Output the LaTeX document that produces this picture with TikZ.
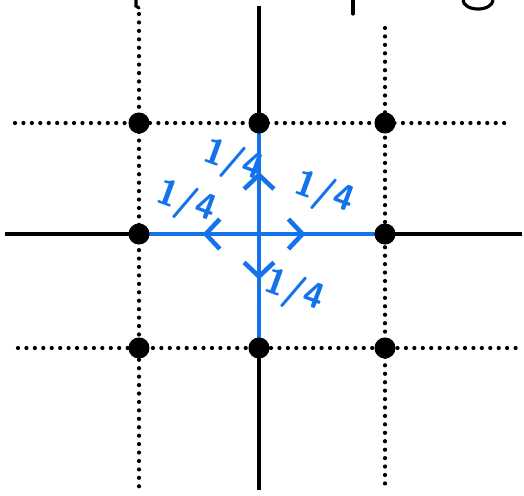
\documentclass[tikz,border=0pt]{standalone}
\usepackage{tikz}
\usetikzlibrary{arrows.meta, decorations.markings}
\definecolor{flowblue}{RGB}{20,115,235}

\begin{document}
\begin{tikzpicture}[x=0.02cm, y=-0.02cm,
    gridline/.style={line width=2.4pt, line cap=round, dash pattern=on 0pt off 4.8pt},
    axisline/.style={line width=2.1pt},
    site/.style={circle, fill=black, minimum width=12pt, minimum height=11pt, inner sep=0pt},
    flow/.style={flowblue, line width=2.6pt, postaction={decorate},
        decoration={markings, mark=at position #1 with {\arrow{Straight Barb[length=8pt, width=17pt, line width=2.6pt]}}}},
    prob/.style={flowblue, font=\sffamily\bfseries\huge, rotate=-20}]
    \useasboundingbox (0,0) rectangle (524,495);

    % lattice points
    \foreach \x/\i in {139/0, 259/1, 385/2} {
        \foreach \y/\j in {123/0, 234/1, 348/2} {
            \coordinate (p\i\j) at (\x,\y);
        }
    }
    \coordinate (c) at (p11);

    % dotted lattice lines
    \draw[gridline] (139,14) -- (139,490);
    \draw[gridline] (385,28) -- (385,490);
    \draw[gridline] (15,123) -- (510,123);
    \draw[gridline] (18,348) -- (520,348);

    % axes
    \draw[axisline] (259,6) -- (259,490);
    \draw[axisline] (5,234) -- (522,234);

    % cut-off strokes at the top
    \draw[line width=1.8pt, line cap=round] (136,0) -- (136,6) -- (139,8);
    \draw[line width=1.8pt, line cap=round] (353,0) -- (353,14);
    \draw[line width=1.8pt] (463,0) arc[start angle=180, end angle=0, x radius=15, y radius=9];

    % steps of the walk
    \draw[flow=0.47] (c) -- (p01);
    \draw[flow=0.37] (c) -- (p21);
    \draw[flow=0.56] (c) -- (p10);
    \draw[flow=0.40] (c) -- (p12);

    % sites
    \foreach \p in {p00, p10, p20, p01, p21, p02, p12, p22} {
        \node[site] (s-\p) at (\p) {};
    }

    % probabilities
    \node[prob] (lw) at (186,203) {1/4};
    \node[prob] (ln) at (233,162) {1/4};
    \node[prob] (le) at (324,194) {1/4};
    \node[prob] (ls) at (294,292) {1/4};
\end{tikzpicture}
\end{document}
